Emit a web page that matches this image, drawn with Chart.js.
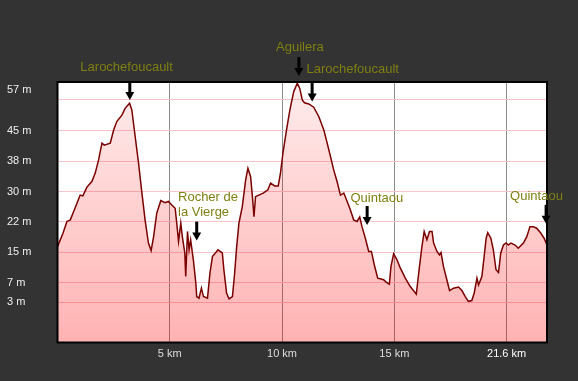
<!DOCTYPE html>
<html>
<head>
<meta charset="utf-8">
<script src="https://cdn.jsdelivr.net/npm/chart.js@4/dist/chart.umd.min.js"></script>
<style>
  html, body { margin: 0; padding: 0; background: #333333; }
  #wrap { width: 578px; height: 381px; position: relative; }
</style>
</head>
<body>
<div id="wrap"><canvas id="c"></canvas></div>
<script>
// Distance along the route (km)
const distanceKm = [
  0.00, 0.24, 0.42, 0.57, 0.72, 0.87, 1.01, 1.13, 1.31, 1.53, 1.68, 1.83, 1.98, 2.08, 2.35, 2.50, 2.64, 2.87, 3.01, 3.21,
  3.31, 3.46, 3.61, 3.76, 3.90, 4.05, 4.17, 4.28, 4.42, 4.60, 4.79, 4.94, 5.09, 5.24, 5.31, 5.39, 5.49, 5.56, 5.67, 5.71,
  5.79, 5.86, 5.93, 6.05, 6.16, 6.20, 6.30, 6.41, 6.50, 6.68, 6.79, 6.90, 7.15, 7.34, 7.41, 7.53, 7.64, 7.79, 7.89, 7.98,
  8.08, 8.23, 8.38, 8.48, 8.60, 8.68, 8.75, 8.82, 8.97, 9.16, 9.37, 9.49, 9.67, 9.83, 9.93, 10.05, 10.20, 10.35, 10.52, 10.68,
  10.79, 10.90, 11.00, 11.19, 11.41, 11.64, 11.86, 12.01, 12.16, 12.30, 12.45, 12.60, 12.75, 12.90, 13.04, 13.19, 13.34, 13.46, 13.56, 13.71,
  13.86, 13.98, 14.11, 14.26, 14.41, 14.52, 14.64, 14.78, 14.85, 14.97, 15.12, 15.27, 15.49, 15.71, 15.98, 16.12, 16.23, 16.33, 16.45, 16.57,
  16.68, 16.75, 16.90, 17.01, 17.08, 17.19, 17.34, 17.46, 17.64, 17.86, 18.01, 18.16, 18.30, 18.45, 18.56, 18.68, 18.75, 18.90, 19.00, 19.09,
  19.16, 19.30, 19.41, 19.53, 19.64, 19.74, 19.86, 19.98, 20.08, 20.19, 20.38, 20.52, 20.75, 20.90, 21.04, 21.19, 21.34, 21.52, 21.67, 21.80
];
// Elevation (m)
const elevationM = [
  16.7, 20.0, 23.0, 23.4, 25.5, 27.6, 29.6, 29.4, 31.6, 33.0, 35.1, 38.4, 42.6, 42.1, 42.6, 45.9, 48.0, 49.6, 51.3, 52.6,
  50.9, 44.2, 37.6, 30.1, 23.4, 17.6, 15.7, 19.2, 25.1, 28.2, 27.7, 28.0, 27.1, 26.3, 22.6, 18.0, 22.6, 19.2, 15.1, 9.2,
  20.5, 15.9, 18.4, 13.4, 7.6, 4.2, 3.8, 6.3, 4.2, 3.8, 10.1, 14.2, 15.9, 15.1, 10.9, 5.1, 3.6, 4.2, 10.1, 16.7,
  22.6, 26.7, 33.4, 36.3, 34.2, 29.2, 24.2, 29.2, 29.6, 30.1, 30.9, 32.6, 31.9, 31.9, 35.1, 40.5, 45.9, 50.9, 55.5, 57.6,
  56.3, 53.4, 52.7, 52.4, 51.6, 49.2, 45.9, 42.6, 39.2, 35.9, 33.0, 29.6, 30.1, 28.0, 25.9, 23.4, 23.0, 24.1, 21.7, 18.8,
  15.5, 15.5, 12.1, 8.8, 8.6, 8.4, 7.8, 7.3, 11.7, 14.9, 13.4, 11.3, 8.8, 6.7, 4.8, 11.7, 16.7, 20.5, 18.4, 20.5,
  20.5, 17.6, 15.5, 14.6, 15.2, 11.7, 8.4, 5.7, 6.3, 6.6, 5.7, 4.2, 3.0, 3.2, 5.1, 8.8, 7.1, 9.2, 14.2, 18.8,
  20.2, 18.8, 15.9, 10.9, 10.2, 15.1, 17.1, 17.6, 17.1, 17.6, 17.1, 16.3, 17.6, 19.2, 21.7, 21.7, 21.3, 20.1, 18.8, 17.1
];

// Axis ticks
const xTickValues = [5, 10, 15, 20];
const xTickLabels = ['5 km', '10 km', '15 km', '21.6 km'];
const yTickValues = [2.8, 7.6, 15.3, 22.9, 30.5, 38.1, 45.7, 53.4, 55.9];
const yTickLabels = ['3 m', '7 m', '15 m', '22 m', '30 m', '38 m', '45 m', '', '57 m'];

// Waypoint annotations (arrow tip at distance / elevation)
const waypointNames = ['Larochefoucault', 'Aguilera', 'Larochefoucault', 'Rocher de\nla Vierge', 'Quintaou', 'Quintaou'];
const waypointKm = [3.22, 10.75, 11.34, 6.20, 13.79, 21.76];
const waypointElev = [53.4, 59.4, 53.0, 18.2, 22.1, 22.4];

// Label placement (style only)
const labelStyle = [
  { dx: -3.2, dy: -32.7, align: 'center' },
  { dx: 1, dy: -28.7, align: 'center' },
  { dx: -5.7, dy: -32.4, align: 'left' },
  { dx: -18.7, dy: -43.4, align: 'left' },
  { dx: -16.7, dy: -26.7, align: 'left' },
  { dx: -36, dy: -27.3, align: 'left' }
];

Chart.defaults.font.family = "'Liberation Sans', Arial, sans-serif";

const plotBg = {
  id: 'plotBg',
  beforeDraw(chart) {
    const a = chart.chartArea, ctx = chart.ctx;
    ctx.save();
    ctx.fillStyle = '#ffffff';
    ctx.fillRect(a.left, a.top, a.right - a.left, a.bottom - a.top);
    ctx.restore();
  },
  afterDraw(chart) {
    const a = chart.chartArea, ctx = chart.ctx;
    const xs = chart.scales.x, ys = chart.scales.y;
    ctx.save();
    ctx.strokeStyle = '#000000';
    ctx.lineWidth = 2;
    ctx.strokeRect(a.left, a.top, a.right - a.left, a.bottom - a.top);
    // waypoints
    ctx.font = "13px 'Liberation Sans', Arial, sans-serif";
    ctx.textBaseline = 'middle';
    for (let i = 0; i < waypointNames.length; i++) {
      const tx = xs.getPixelForValue(waypointKm[i]);
      const ty = ys.getPixelForValue(waypointElev[i]);
      ctx.fillStyle = '#000000';
      ctx.fillRect(tx - 1.5, ty - 19, 3, 12);
      ctx.beginPath();
      ctx.moveTo(tx - 4.5, ty - 8);
      ctx.lineTo(tx + 4.5, ty - 8);
      ctx.lineTo(tx, ty);
      ctx.closePath();
      ctx.fill();
      const st = labelStyle[i];
      ctx.textAlign = st.align;
      ctx.fillStyle = '#7f7f12';
      const lines = waypointNames[i].split('\n');
      lines.forEach((ln, k) => ctx.fillText(ln, tx + st.dx, ty + st.dy + k * 15));
    }
    ctx.restore();
  }
};

new Chart(document.getElementById('c'), {
  type: 'line',
  data: {
    datasets: [{
      data: distanceKm.map((d, i) => ({ x: d, y: elevationM[i] })),
      borderColor: '#7a0000',
      borderWidth: 1.5,
      pointRadius: 0,
      tension: 0,
      fill: 'start',
      backgroundColor: (ctx) => {
        const a = ctx.chart.chartArea;
        if (!a) return 'rgba(255,0,0,0.2)';
        const g = ctx.chart.ctx.createLinearGradient(0, a.top, 0, a.bottom);
        g.addColorStop(0, 'rgba(255,0,0,0.07)');
        g.addColorStop(1, 'rgba(255,0,0,0.30)');
        return g;
      }
    }]
  },
  options: {
    responsive: true,
    maintainAspectRatio: false,
    animation: false,
    layout: { padding: { left: 7, top: 82, right: 31, bottom: 0 } },
    plugins: { legend: { display: false }, tooltip: { enabled: false } },
    scales: {
      x: {
        type: 'linear',
        min: 0,
        max: 21.8,
        afterFit(s) { s.height = 38.5; },
        afterBuildTicks(s) { s.ticks = xTickValues.map(v => ({ value: v })); },
        border: { display: false },
        grid: { color: '#8a8a8a', drawTicks: false, lineWidth: 1 },
        ticks: {
          autoSkip: false,
          maxRotation: 0,
          padding: 5,
          font: { size: 11 },
          color: (c) => c.index === xTickValues.length - 1 ? '#ffffff' : '#dddddd',
          callback: (v, i) => xTickLabels[i]
        }
      },
      y: {
        min: -7.3,
        max: 57.9,
        afterFit(s) { s.width = 50.5; },
        afterBuildTicks(s) { s.ticks = yTickValues.map(v => ({ value: v })); },
        border: { display: false },
        grid: {
          drawTicks: false,
          lineWidth: 1,
          color: (c) => yTickLabels[c.index] === '57 m' ? 'rgba(0,0,0,0)' : '#f6c4cc'
        },
        ticks: {
          autoSkip: false,
          crossAlign: 'far',
          font: { size: 11 },
          color: '#eeeeee',
          callback: (v, i) => yTickLabels[i]
        }
      }
    }
  },
  plugins: [plotBg]
});
</script>
</body>
</html>
